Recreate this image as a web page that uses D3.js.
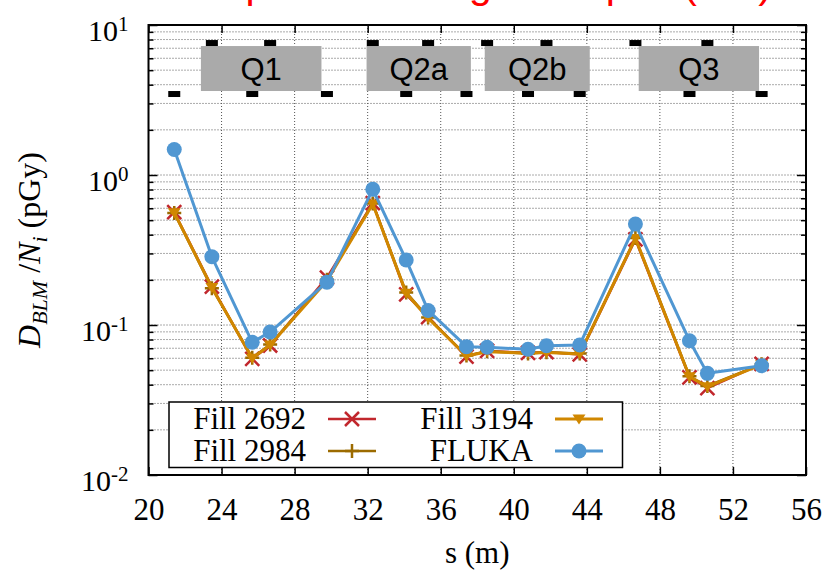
<!DOCTYPE html>
<html>
<head>
<meta charset="utf-8">
<script src="https://cdn.jsdelivr.net/npm/d3@7"></script>
<style>
  body { margin: 0; background: #fff; }
  svg { display: block; }
  .grid line { stroke: #555; stroke-width: 1; stroke-dasharray: 1,2; }
</style>
</head>
<body>
<svg id="chart" width="836" height="574"></svg>
<script>
// ----------------------------------------- Data -----------------------------------------

// BLM positions along the beam line (m)
var sPos = [21.41, 23.47, 25.68, 26.66, 29.77, 32.28, 34.11, 35.31, 37.41, 38.54, 40.78, 41.79, 43.61, 46.66, 49.62, 50.60, 53.57];

// D_BLM / N_i (pGy) for each series
var fill2692 = [0.565, 0.180, 0.0595, 0.0730, 0.207, 0.650, 0.160, 0.113, 0.0615, 0.0672, 0.0652, 0.0660, 0.0636, 0.372, 0.0448, 0.0380, 0.0550];
var fill2984 = [0.558, 0.176, 0.0605, 0.0740, 0.200, 0.645, 0.165, 0.112, 0.0625, 0.0668, 0.0645, 0.0658, 0.0645, 0.380, 0.0455, 0.0392, 0.0548];
var fill3194 = [0.561, 0.178, 0.0600, 0.0736, 0.197, 0.641, 0.163, 0.111, 0.0621, 0.0664, 0.0648, 0.0655, 0.0641, 0.378, 0.0452, 0.0388, 0.0545];
var fluka    = [1.48, 0.285, 0.0767, 0.0898, 0.193, 0.803, 0.271, 0.125, 0.0717, 0.0710, 0.0689, 0.0728, 0.0736, 0.471, 0.0786, 0.0476, 0.0535];

// magnets (name, start s, end s)
var magnetNames = ['Q1', 'Q2a', 'Q2b', 'Q3'];
var magnetStart = [22.87, 31.94, 38.41, 46.84];
var magnetEnd   = [29.47, 37.65, 44.16, 53.43];

// axis ticks
var xTicks = [20, 24, 28, 32, 36, 40, 44, 48, 52, 56];
var yMajor = [0.01, 0.1, 1, 10];

// ----------------------------------------- Setup -----------------------------------------

var svg = d3.select('#chart');
var plotL = 148.5, plotR = 806, plotT = 25, plotB = 475;
var serif = '"Liberation Serif", "DejaVu Serif", serif';
var sans = '"Liberation Sans", Arial, sans-serif';

var xScale = d3.scaleLinear().domain([20, 56]).range([plotL, plotR]);
var yScale = d3.scaleLog().domain([0.01, 10]).range([plotB, plotT]);

var yMinor = [];
yMajor.slice(0, -1).forEach(function(m) {
    for (var k = 2; k <= 9; k++) yMinor.push(m * k);
});

// title (cut off at the top of the picture, only descenders show)
svg.append('text')
    .text('Comparison along the triplet (IP1)')
    .attr('x', 159)
    .attr('y', -2)
    .attr('fill', '#ff0000')
    .attr('font-family', sans)
    .attr('font-size', 41);

// ----------------------------------------- Grid -----------------------------------------

var grid = svg.append('g').classed('grid', true);

grid.selectAll('.vg')
    .data(xTicks.slice(1, -1))
    .enter().append('line')
        .attr('x1', d => xScale(d)).attr('x2', d => xScale(d))
        .attr('y1', plotT).attr('y2', plotB);

grid.selectAll('.hg')
    .data(yMajor.slice(1, -1).concat(yMinor))
    .enter().append('line')
        .attr('x1', plotL).attr('x2', plotR)
        .attr('y1', d => yScale(d)).attr('y2', d => yScale(d));

// ----------------------------------------- Magnets and BLM markers -----------------------------------------

var magTop = 7.24, magBottom = 3.63;

var mags = svg.append('g');
magnetNames.forEach(function(name, i) {
    mags.append('rect')
        .attr('x', xScale(magnetStart[i]))
        .attr('y', yScale(magTop))
        .attr('width', xScale(magnetEnd[i]) - xScale(magnetStart[i]))
        .attr('height', yScale(magBottom) - yScale(magTop))
        .attr('fill', '#aaaaaa');
    mags.append('text')
        .text(name)
        .attr('x', (xScale(magnetStart[i]) + xScale(magnetEnd[i])) / 2)
        .attr('y', (yScale(magTop) + yScale(magBottom)) / 2 + 11)
        .attr('text-anchor', 'middle')
        .attr('font-family', sans)
        .attr('font-size', 31)
        .attr('fill', '#000');
});

mags.selectAll('.blm')
    .data(sPos)
    .enter().append('rect')
        .attr('x', d => xScale(d) - 6)
        .attr('y', (d, i) => i % 2 === 0 ? yScale(magBottom) : yScale(magTop) - 6)
        .attr('width', 12)
        .attr('height', 6)
        .attr('fill', '#000');

// ----------------------------------------- Axes -----------------------------------------

function styleAxis(g) {
    g.select('.domain').remove();
    g.selectAll('.tick line').attr('stroke', '#000').attr('stroke-width', 1.5);
}

svg.append('g')
    .attr('transform', 'translate(0,' + plotB + ')')
    .call(d3.axisBottom(xScale).tickValues(xTicks).tickSize(-8).tickSizeOuter(0).tickPadding(23))
    .call(styleAxis)
    .selectAll('text')
        .attr('font-family', serif)
        .attr('font-size', 31)
        .attr('fill', '#000');

svg.append('g')
    .attr('transform', 'translate(0,' + plotT + ')')
    .call(d3.axisTop(xScale).tickValues(xTicks).tickSize(-8).tickSizeOuter(0).tickFormat(''))
    .call(styleAxis);

var yAxisG = svg.append('g')
    .attr('transform', 'translate(' + plotL + ',0)')
    .call(d3.axisLeft(yScale).tickValues(yMajor).tickSize(-9).tickSizeOuter(0).tickPadding(20))
    .call(styleAxis);

yAxisG.selectAll('.tick text')
    .attr('font-family', serif)
    .attr('font-size', 30)
    .attr('fill', '#000')
    .attr('dy', '0.5em')
    .each(function(d) {
        var t = d3.select(this);
        t.text(null);
        t.append('tspan').text('10');
        t.append('tspan').attr('dy', -10).attr('font-size', 21).text(Math.round(Math.log10(d)));
    });

svg.append('g')
    .attr('transform', 'translate(' + plotL + ',0)')
    .call(d3.axisLeft(yScale).tickValues(yMinor).tickSize(-5).tickSizeOuter(0).tickFormat(''))
    .call(styleAxis);

svg.append('g')
    .attr('transform', 'translate(' + plotR + ',0)')
    .call(d3.axisRight(yScale).tickValues(yMajor).tickSize(-9).tickSizeOuter(0).tickFormat(''))
    .call(styleAxis);

svg.append('g')
    .attr('transform', 'translate(' + plotR + ',0)')
    .call(d3.axisRight(yScale).tickValues(yMinor).tickSize(-5).tickSizeOuter(0).tickFormat(''))
    .call(styleAxis);

// frame
svg.append('rect')
    .attr('x', plotL).attr('y', plotT)
    .attr('width', plotR - plotL).attr('height', plotB - plotT)
    .attr('fill', 'none')
    .attr('stroke', '#000')
    .attr('stroke-width', 2);

// axis titles
svg.append('text')
    .text('s (m)')
    .attr('x', (plotL + plotR) / 2)
    .attr('y', 563)
    .attr('text-anchor', 'middle')
    .attr('font-family', serif)
    .attr('font-size', 31);

var yTitle = svg.append('text')
    .attr('transform', 'translate(40,' + ((plotT + plotB) / 2) + ') rotate(-90)')
    .attr('text-anchor', 'middle')
    .attr('font-family', serif)
    .attr('font-size', 32);
yTitle.append('tspan').attr('font-style', 'italic').text('D');
yTitle.append('tspan').attr('font-style', 'italic').attr('font-size', 22).attr('dy', 7).text('BLM');
yTitle.append('tspan').attr('dy', -7).text(' /');
yTitle.append('tspan').attr('font-style', 'italic').text('N');
yTitle.append('tspan').attr('font-style', 'italic').attr('font-size', 22).attr('dy', 7).text('i');
yTitle.append('tspan').attr('dy', -7).text(' (pGy)');

// ----------------------------------------- Series -----------------------------------------

var series = [
    { name: 'Fill 2692', values: fill2692, color: '#c1272d', marker: 'cross', width: 2.5 },
    { name: 'Fill 2984', values: fill2984, color: '#9c6b00', marker: 'plus', width: 2.5 },
    { name: 'Fill 3194', values: fill3194, color: '#d08700', marker: 'tri', width: 3 },
    { name: 'FLUKA', values: fluka, color: '#5097d2', marker: 'circle', width: 3 }
];

var line = d3.line()
    .x((d, i) => xScale(sPos[i]))
    .y(d => yScale(d));

function drawMarker(g, type, color) {
    if (type === 'cross') {
        g.append('path').attr('d', 'M-7,-7L7,7M-7,7L7,-7')
            .attr('stroke', color).attr('stroke-width', 2.5).attr('fill', 'none');
    } else if (type === 'plus') {
        g.append('path').attr('d', 'M-7,0H7M0,-7V7')
            .attr('stroke', color).attr('stroke-width', 2.5).attr('fill', 'none');
    } else if (type === 'tri') {
        g.append('path').attr('d', 'M-6.5,-4.5L6.5,-4.5L0,5.5Z').attr('fill', color);
    } else {
        g.append('circle').attr('r', 7.5).attr('fill', color);
    }
}

series.forEach(function(s) {
    var g = svg.append('g');
    g.append('path')
        .datum(s.values)
        .attr('d', line)
        .attr('fill', 'none')
        .attr('stroke', s.color)
        .attr('stroke-width', s.width)
        .attr('stroke-linejoin', 'round');
    g.selectAll('.pt')
        .data(s.values)
        .enter().append('g')
            .attr('transform', (d, i) => 'translate(' + xScale(sPos[i]) + ',' + yScale(d) + ')')
            .each(function() { drawMarker(d3.select(this), s.marker, s.color); });
});

// ----------------------------------------- Legend -----------------------------------------

var legend = svg.append('g');
legend.append('rect')
    .attr('x', 169).attr('y', 402)
    .attr('width', 622.5 - 169).attr('height', 65.5)
    .attr('fill', '#fff')
    .attr('stroke', '#000')
    .attr('stroke-width', 1.5);

var colText = [306, 533], colLine = [328, 555], rowY = [419, 451];
series.forEach(function(s, i) {
    var col = Math.floor(i / 2), row = i % 2;
    legend.append('text')
        .text(s.name)
        .attr('x', colText[col])
        .attr('y', rowY[row] + 10)
        .attr('text-anchor', 'end')
        .attr('font-family', serif)
        .attr('font-size', 31);
    legend.append('line')
        .attr('x1', colLine[col]).attr('x2', colLine[col] + 48)
        .attr('y1', rowY[row]).attr('y2', rowY[row])
        .attr('stroke', s.color)
        .attr('stroke-width', s.width);
    var m = legend.append('g').attr('transform', 'translate(' + (colLine[col] + 24) + ',' + rowY[row] + ')');
    drawMarker(m, s.marker, s.color);
});
</script>
</body>
</html>
